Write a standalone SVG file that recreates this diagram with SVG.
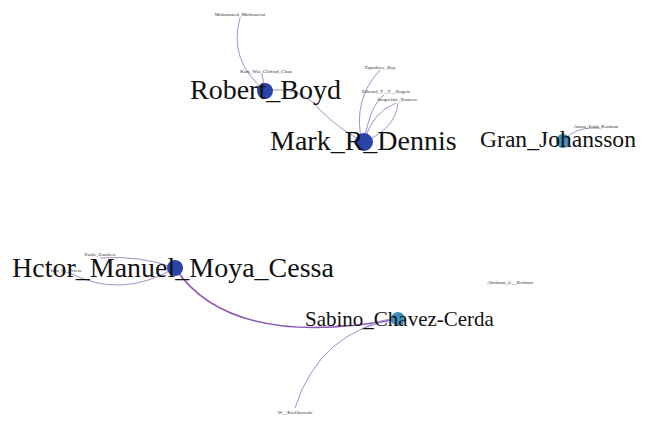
<svg xmlns="http://www.w3.org/2000/svg" width="651" height="421" viewBox="0 0 651 421">
<style>
.big{font-family:"Liberation Serif","Times New Roman",serif;fill:#111}
.sm{font-family:"Liberation Serif","Times New Roman",serif;font-size:5px;fill:#333;text-anchor:middle}
.e{fill:none;stroke:#a58fcf;stroke-width:1}
.e2{fill:none;stroke:#8c55b8;stroke-width:1.6}
.dk{fill:#2a44a8}
.tl{fill:#3f8fb8}
</style>
<rect width="651" height="421" fill="#fff"/>
<g id="connectors">
<path class="e" d="M240,18 Q228,60 265,91"/>
<path class="e" d="M262,74 Q264,84 265,91"/>
<path class="e" d="M265,91 Q300,85 320,110 Q340,130 364,142"/>
<path class="e" d="M380,70 Q352,100 362,142"/>
<path class="e" d="M384,95 Q370,105 364,142"/>
<path class="e" d="M396,103 Q372,112 364,142"/>
<path class="e" d="M398,103 Q396,128 364,142"/>
<path class="e" d="M563,141 Q575,126 600,128"/>
<path class="e2" d="M175,268 Q230,350 398,319"/>
<path class="e" d="M175,268 Q120,300 68,272"/>
<path class="e" d="M175,268 Q140,255 100,258"/>
<path class="e" d="M398,319 Q320,330 295,408"/>
<path class="e" d="M398,319 Q380,318 360,330"/>
</g>
<g id="n_mirhosseini"><text class="sm" x="240" y="16">Mohammed_Mirhosseini</text></g>
<g id="n_chan"><text class="sm" x="266" y="73">Kam_Wai_Clifford_Chan</text></g>
<g id="n_roy"><text class="sm" x="380" y="69">Tapashree_Roy</text></g>
<g id="n_rogers"><text class="sm" x="386" y="93">Edward_T__F__Rogers</text></g>
<g id="n_romero"><text class="sm" x="397" y="101">Jacqueline_Romero</text></g>
<g id="n_kockum"><text class="sm" x="596" y="128">Anton_Frisk_Kockum</text></g>
<g id="n_zambesi"><text class="sm" x="100" y="256">Paolo_Zambesi</text></g>
<g id="n_ramos"><text class="sm" x="66" y="272">Iran_R__Prieto</text></g>
<g id="n_kofman"><text class="sm" x="510" y="284">Abraham_G__Kofman</text></g>
<g id="n_krolikowski"><text class="sm" x="295" y="414">W__Krolikowski</text></g>
<g id="n_boyd"><circle class="dk" cx="265" cy="91" r="8"/><text class="big" x="190" y="99" font-size="28">Robert_Boyd</text></g>
<g id="n_dennis"><circle class="dk" cx="364" cy="142" r="9"/><text class="big" x="270" y="150" font-size="28">Mark_R_Dennis</text></g>
<g id="n_johansson"><circle class="tl" cx="563" cy="141" r="7"/><text class="big" x="480" y="147" font-size="23.6">Gran_Johansson</text></g>
<g id="n_moya"><circle class="dk" cx="175" cy="268" r="8"/><text class="big" x="12" y="277" font-size="28">Hctor_Manuel_Moya_Cessa</text></g>
<g id="n_chavez"><circle class="tl" cx="398" cy="319" r="7"/><text class="big" x="305" y="326" font-size="21">Sabino_Chavez-Cerda</text></g>
</svg>
